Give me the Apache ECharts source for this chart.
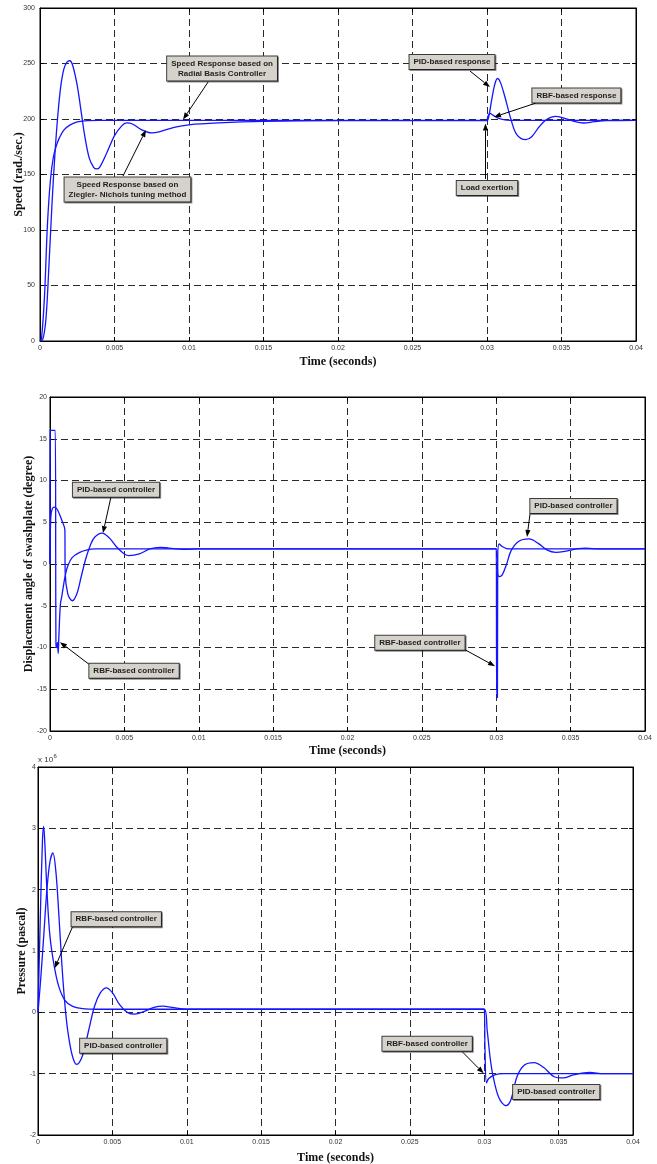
<!DOCTYPE html>
<html>
<head>
<meta charset="utf-8">
<script src="https://cdn.jsdelivr.net/npm/echarts@6/dist/echarts.min.js"></script>
<style>
  html, body { margin: 0; padding: 0; background: #fff; }
  #chart { width: 657px; height: 1164px; }
</style>
</head>
<body>
<div id="chart"></div>
<script>
// Time axis shared by the three panels (seconds): [min, max, interval]
const timeRange = [0, 0.04, 0.005];

// Panel ranges: [min, max, interval]
const speedRange = [0, 300, 50];
const angleRange = [-20, 20, 5];
const pressureRange = [-2, 4, 1];   // units of 10^6 Pa

// Motor speed (rad/s) -- Ziegler-Nichols tuned PID
const speedPID = [
  [0, 0], [0.0002, 2], [0.0004, 20], [0.0006, 68], [0.0008, 122], [0.001, 168],
  [0.0012, 204], [0.0014, 230], [0.0016, 245], [0.0018, 251], [0.002, 252.5],
  [0.0022, 248], [0.0025, 230], [0.0028, 203], [0.003, 185], [0.0033, 165],
  [0.0036, 156.5], [0.0038, 155], [0.004, 156.5], [0.0045, 170], [0.005, 185],
  [0.0055, 194], [0.0058, 196.5], [0.0062, 195.5], [0.0068, 190.5], [0.0075, 187.5],
  [0.008, 188.5], [0.009, 192.5], [0.01, 194.8], [0.012, 196.5], [0.015, 197.8],
  [0.02, 198.5], [0.03, 198.6], [0.0301, 201], [0.0303, 216], [0.0305, 230],
  [0.0307, 236.5], [0.0309, 233], [0.0312, 220], [0.0316, 200], [0.032, 186],
  [0.0326, 181.5], [0.033, 184], [0.0335, 193], [0.034, 199.5], [0.0346, 202.4],
  [0.035, 201.5], [0.0358, 198], [0.0365, 196.4], [0.0372, 197.6], [0.038, 198.6],
  [0.04, 198.7]
];

// Motor speed (rad/s) -- radial basis function controller
const speedRBF = [
  [0, 0], [0.0001, 2], [0.0003, 40], [0.0005, 105], [0.0007, 145], [0.0009, 166],
  [0.0011, 176], [0.0013, 183], [0.0016, 190], [0.002, 194.5], [0.0025, 197.3],
  [0.003, 198.4], [0.004, 198.7], [0.03, 198.7], [0.03005, 202], [0.0302, 205],
  [0.0304, 203.5], [0.0307, 201], [0.0312, 199.2], [0.032, 198.7], [0.04, 198.7]
];

// Swashplate displacement angle (degree) -- PID
const anglePID = [
  [0, 0], [0.00005, 5.5], [0.00015, 6.6], [0.0003, 6.8], [0.0005, 6.5], [0.0008, 5.2],
  [0.001, 4.1], [0.00102, -1], [0.0012, -3.6], [0.0015, -4.4], [0.0018, -3.6],
  [0.0021, -1.5], [0.0024, 0.6], [0.0027, 2.2], [0.003, 3.2], [0.0035, 3.7],
  [0.004, 3.1], [0.0045, 2], [0.005, 1.2], [0.0053, 1.0], [0.006, 1.2], [0.0067, 1.8],
  [0.0074, 2.0], [0.008, 1.9], [0.009, 1.75], [0.01, 1.8], [0.03, 1.8], [0.0301, -1.2],
  [0.0302, -1.5], [0.0304, -1.3], [0.0307, 0.0], [0.031, 1.6], [0.0315, 2.7],
  [0.0322, 3.0], [0.0328, 2.5], [0.0334, 1.7], [0.034, 1.4], [0.0347, 1.55],
  [0.0355, 1.85], [0.036, 1.9], [0.037, 1.8], [0.04, 1.8]
];

// Swashplate displacement angle (degree) -- RBF
const angleRBF = [
  [0, 0], [0.00002, 16], [0.00035, 16], [0.0004, -9.6], [0.00045, -10], [0.0005, -9.4],
  [0.00055, -10.7], [0.0006, -8.5], [0.0007, -4.8], [0.0008, -3.8], [0.001, -1.6],
  [0.0012, -0.2], [0.0015, 0.8], [0.002, 1.4], [0.0025, 1.7], [0.003, 1.8],
  [0.03, 1.8], [0.03003, -16], [0.03008, -16], [0.0301, 1.0], [0.0302, 2.4],
  [0.0304, 2.1], [0.0307, 1.85], [0.031, 1.8], [0.04, 1.8]
];

// Pressure (x 10^6 Pa) -- PID
const pressurePID = [
  [0, 0], [0.0002, 0.6], [0.0004, 1.3], [0.0006, 2.0], [0.0008, 2.45], [0.001, 2.6],
  [0.0012, 2.3], [0.0014, 1.6], [0.0016, 0.8], [0.0018, 0.15], [0.002, -0.3],
  [0.0023, -0.7], [0.0026, -0.85], [0.003, -0.7], [0.0034, -0.3], [0.0038, 0.1],
  [0.0042, 0.32], [0.0046, 0.4], [0.005, 0.32], [0.0055, 0.12], [0.006, 0.0],
  [0.0065, -0.03], [0.0072, 0.02], [0.0078, 0.08], [0.0084, 0.1], [0.009, 0.08],
  [0.01, 0.05], [0.03, 0.05], [0.0302, -0.3], [0.0304, -0.75], [0.0306, -1.05],
  [0.031, -1.4], [0.03146, -1.52], [0.0318, -1.42], [0.0322, -1.05], [0.0327, -0.86],
  [0.03335, -0.82], [0.034, -0.9], [0.0347, -1.05], [0.0353, -1.07], [0.036, -1.02],
  [0.0371, -0.98], [0.038, -1.0], [0.04, -1.0]
];

// Pressure (x 10^6 Pa) -- RBF
const pressureRBF = [
  [0, 0], [0.00015, 1.5], [0.0003, 2.8], [0.00038, 3.03], [0.00045, 2.8], [0.0006, 2.0],
  [0.0008, 1.25], [0.0011, 0.74], [0.0014, 0.42], [0.0018, 0.2], [0.0023, 0.1],
  [0.003, 0.06], [0.004, 0.05], [0.03, 0.05], [0.03005, -0.6], [0.03015, -1.15],
  [0.0303, -1.08], [0.0307, -1.02], [0.0313, -1.0], [0.04, -1.0]
];

// Callouts per panel: box centre, arrow tail, arrow head (data coordinates)
const speedNotes = [
  { text: 'Speed Response based on\nRadial Basis Controller', box: [0.01222, 245.5], from: [0.01128, 233.3], to: [0.0096, 199.5] },
  { text: 'Speed Response based on\nZiegler- Nichols tuning method', box: [0.00587, 136.5], from: [0.00557, 148.6], to: [0.00711, 190.1] },
  { text: 'PID-based response', box: [0.02765, 251.4], from: [0.02886, 243.2], to: [0.0302, 228.8] },
  { text: 'RBF-based response', box: [0.036, 221.2], from: [0.03329, 214.4], to: [0.03047, 201.8] },
  { text: 'Load exertion', box: [0.03, 137.8], from: [0.0299, 146], to: [0.0299, 196] }
];
const angleNotes = [
  { text: 'PID-based controller', box: [0.00444, 8.88], from: [0.0041, 8.04], to: [0.00356, 3.7] },
  { text: 'RBF-based controller', box: [0.00565, -12.78], from: [0.00269, -12.1], to: [0.00067, -9.36] },
  { text: 'PID-based controller', box: [0.03519, 6.96], from: [0.03227, 6.0], to: [0.03207, 3.24] },
  { text: 'RBF-based controller', box: [0.02487, -9.42], from: [0.02783, -10.2], to: [0.02992, -12.24] }
];
const pressureNotes = [
  { text: 'RBF-based controller', box: [0.00526, 1.517], from: [0.00233, 1.40], to: [0.00112, 0.72] },
  { text: 'PID-based controller', box: [0.00573, -0.546] },
  { text: 'RBF-based controller', box: [0.02616, -0.514], from: [0.02855, -0.65], to: [0.02996, -0.995] },
  { text: 'PID-based controller', box: [0.03484, -1.297] }
];

const panels = [
  { grid: { left: 40, top: 8, width: 596, height: 333 }, range: speedRange, yName: 'Speed (rad./sec.)', yGap: 15, xGap: 15, labelMargin: 5, series: [speedPID, speedRBF], notes: speedNotes },
  { grid: { left: 50, top: 397, width: 595, height: 334 }, range: angleRange, yName: 'Displacement angle of swashplate (degree)', yGap: 15, xGap: 14, labelMargin: 3, series: [anglePID, angleRBF], notes: angleNotes },
  { grid: { left: 38, top: 767, width: 595, height: 368 }, range: pressureRange, yName: 'Pressure (pascal)', yGap: 10, xGap: 17, labelMargin: 2, series: [pressurePID, pressureRBF], notes: pressureNotes }
];

const tickFont = { fontFamily: '"Liberation Sans", Arial, sans-serif', fontSize: 7, color: '#333' };
const nameFont = { fontFamily: '"Liberation Serif", "Times New Roman", serif', fontSize: 12, fontWeight: 'bold', color: '#111' };
const gridDash = { color: '#2a2a2a', width: 1, type: [7, 4] };
const lineBlue = '#1414ff';

const grids = [], xAxes = [], yAxes = [], series = [];
panels.forEach((p, i) => {
  grids.push(Object.assign({
    show: true, borderColor: '#000', borderWidth: 1, backgroundColor: '#fff',
    containLabel: false, outerBoundsMode: 'none'
  }, p.grid));
  xAxes.push({
    type: 'value', gridIndex: i, min: timeRange[0], max: timeRange[1], interval: timeRange[2],
    name: 'Time (seconds)', nameLocation: 'middle', nameGap: p.xGap, nameTextStyle: nameFont,
    nameMoveOverlap: false,
    axisLine: { onZero: false, lineStyle: { color: '#000' } },
    axisTick: { inside: true, length: 4, lineStyle: { color: '#000' } },
    axisLabel: Object.assign({ margin: 4 }, tickFont),
    splitLine: { show: true, lineStyle: gridDash }
  });
  yAxes.push({
    type: 'value', gridIndex: i, min: p.range[0], max: p.range[1], interval: p.range[2],
    name: p.yName, nameLocation: 'middle', nameGap: p.yGap, nameTextStyle: nameFont,
    nameMoveOverlap: false,
    axisLine: { show: true, onZero: false, lineStyle: { color: '#000' } },
    axisTick: { show: true, inside: true, length: 4, lineStyle: { color: '#000' } },
    axisLabel: Object.assign({ margin: p.labelMargin }, tickFont),
    splitLine: { show: true, lineStyle: gridDash }
  });
  p.series.forEach(d => {
    series.push({
      type: 'line', xAxisIndex: i, yAxisIndex: i, data: d, symbol: 'none',
      smooth: 0.35,
      lineStyle: { color: lineBlue, width: 1.3 }, z: 5
    });
  });
});
// mirrored ticks on the top and right edges of each panel
panels.forEach((p, i) => {
  xAxes.push({
    type: 'value', gridIndex: i, position: 'top', min: timeRange[0], max: timeRange[1], interval: timeRange[2],
    axisLine: { show: true, onZero: false, lineStyle: { color: '#000' } },
    axisTick: { inside: true, length: 4, lineStyle: { color: '#000' } },
    axisLabel: { show: false }, splitLine: { show: false }
  });
  yAxes.push({
    type: 'value', gridIndex: i, position: 'right', min: p.range[0], max: p.range[1], interval: p.range[2],
    axisLine: { show: true, onZero: false, lineStyle: { color: '#000' } },
    axisTick: { show: true, inside: true, length: 4, lineStyle: { color: '#000' } },
    axisLabel: { show: false }, splitLine: { show: false }
  });
});

const chart = echarts.init(document.getElementById('chart'), null, { renderer: 'canvas' });
chart.setOption({
  animation: false,
  backgroundColor: '#fff',
  grid: grids, xAxis: xAxes, yAxis: yAxes, series: series
});

// Callout boxes and arrows, placed through the axes' own scales
const graphics = [];
function arrow(a, b) {
  const dx = b[0] - a[0], dy = b[1] - a[1];
  const len = Math.sqrt(dx * dx + dy * dy) || 1;
  const ux = dx / len, uy = dy / len;
  const head = 7, half = 2.6;
  const bx = b[0] - ux * head, by = b[1] - uy * head;
  graphics.push({
    type: 'line', z: 90, silent: true,
    shape: { x1: a[0], y1: a[1], x2: bx, y2: by },
    style: { stroke: '#000', lineWidth: 1 }
  });
  graphics.push({
    type: 'polygon', z: 90, silent: true,
    shape: { points: [[b[0], b[1]], [bx - uy * half, by + ux * half], [bx + uy * half, by - ux * half]] },
    style: { fill: '#000' }
  });
}
panels.forEach((p, i) => {
  p.notes.forEach(n => {
    if (n.from) {
      arrow(chart.convertToPixel({ gridIndex: i }, n.from), chart.convertToPixel({ gridIndex: i }, n.to));
    }
    const c = chart.convertToPixel({ gridIndex: i }, n.box);
    graphics.push({
      type: 'text', z: 100, silent: true, x: c[0], y: c[1],
      style: {
        text: n.text, align: 'center', verticalAlign: 'middle',
        textAlign: 'center', textVerticalAlign: 'middle',
        font: 'bold 8px "Liberation Sans", Arial, sans-serif', lineHeight: 10,
        fill: '#1e1e1e', backgroundColor: '#d5d2cb',
        borderColor: '#3c3c3c', borderWidth: 1, padding: [2, 4, 2, 4],
        shadowColor: 'rgba(0,0,0,0.45)', shadowOffsetX: 1, shadowOffsetY: 1, shadowBlur: 0
      }
    });
  });
});
// exponent marker of the pressure axis
const pTop = chart.convertToPixel({ gridIndex: 2 }, [0, pressureRange[1]]);
graphics.push({
  type: 'text', x: pTop[0], y: pTop[1] - 7,
  style: { text: 'x 10', font: '8px "Liberation Sans", Arial, sans-serif', fill: '#333', align: 'left', verticalAlign: 'middle' }
});
graphics.push({
  type: 'text', x: pTop[0] + 15.5, y: pTop[1] - 11,
  style: { text: '6', font: '6px "Liberation Sans", Arial, sans-serif', fill: '#333', align: 'left', verticalAlign: 'middle' }
});

chart.setOption({ graphic: graphics });
</script>
</body>
</html>
